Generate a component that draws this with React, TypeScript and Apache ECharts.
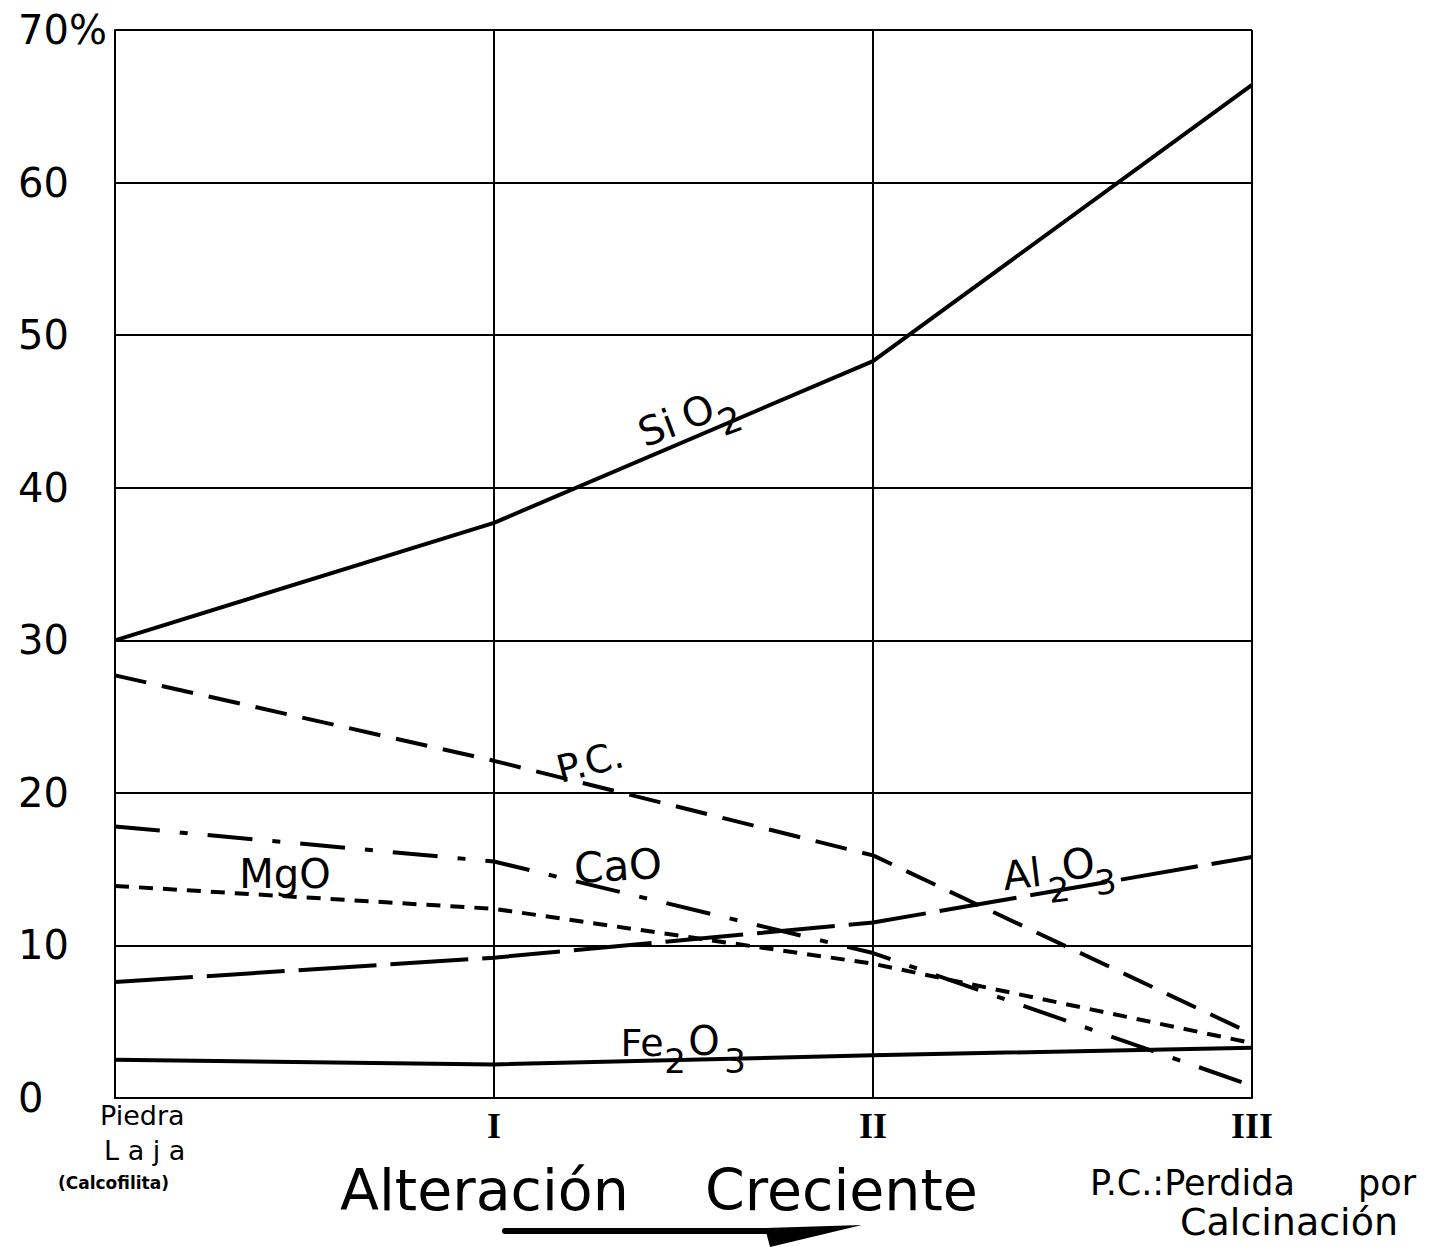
import React, { useEffect, useRef } from "react";
import * as echarts from "echarts";

const categories = ["Piedra Laja (Calcofilita)", "I", "II", "III"];
const sio2 = [30.0, 37.7, 48.3, 66.4];
const pc = [27.7, 22.1, 15.9, 4.2];
const cao = [17.8, 15.5, 9.5, 0.8];
const mgo = [13.9, 12.4, 8.8, 3.6];
const al2o3 = [7.6, 9.2, 11.5, 15.8];
const fe2o3 = [2.5, 2.2, 2.8, 3.3];
const yMin = 0;
const yMax = 70;
const yStep = 10;

const FONT = "DejaVu Sans";

function t(x: number, y: number, text: string, fontSize: number, extra: any = {}) {
  return {
    type: "text",
    x,
    y,
    style: {
      text,
      fontSize,
      fontFamily: FONT,
      fill: "#000",
      align: "center",
      verticalAlign: "middle",
      ...extra,
    },
  };
}

export default function App() {
  const ref = useRef<HTMLDivElement>(null);
  useEffect(() => {
    document.body.style.margin = "0";
    const chart = echarts.init(ref.current!, null, { renderer: "svg" });
    const lineSeries = (name: string, data: number[], type: any, width = 4) => ({
      name,
      type: "line",
      data,
      symbol: "none",
      silent: true,
      lineStyle: { color: "#000", width, type },
    });
    chart.setOption({
      animation: false,
      backgroundColor: "#fff",
      textStyle: { fontFamily: FONT },
      grid: { left: 115, right: 177, top: 30, bottom: 149 },
      xAxis: {
        type: "category",
        data: categories,
        boundaryGap: false,
        axisLine: { lineStyle: { color: "#000", width: 2 } },
        axisTick: { show: false },
        splitLine: { show: true, lineStyle: { color: "#000", width: 2 } },
        axisLabel: {
          formatter: (v: string, i: number) => (i === 0 ? "" : v),
          fontFamily: "Liberation Serif",
          fontWeight: "bold",
          fontSize: 36,
          color: "#000",
          margin: 10,
        },
      },
      yAxis: {
        type: "value",
        min: yMin,
        max: yMax,
        interval: yStep,
        axisLine: { show: true, lineStyle: { color: "#000", width: 2 } },
        axisTick: { show: false },
        splitLine: { show: true, lineStyle: { color: "#000", width: 2 } },
        axisLabel: {
          formatter: (v: number) => (v === yMax ? v + "%" : String(v)),
          align: "left",
          margin: 97,
          fontSize: 40,
          fontFamily: FONT,
          color: "#000",
        },
      },
      series: [
        lineSeries("SiO2", sio2, "solid", 4),
        lineSeries("P.C.", pc, [32, 16], 4),
        lineSeries("CaO", cao, [45, 20, 8, 20], 4),
        lineSeries("MgO", mgo, [14, 10], 4),
        lineSeries("Al2O3", al2o3, [78, 14], 4),
        lineSeries("Fe2O3", fe2o3, "solid", 4),
      ],
      graphic: [
        // first category label
        t(100, 1115, "Piedra", 27, { align: "left" }),
        t(104, 1150, "L a j a", 27, { align: "left" }),
        t(58, 1183, "(Calcofilita)", 17, { align: "left", fontWeight: "bold" }),
        // axis title
        t(340, 1190, "Alteración", 57, { align: "left" }),
        t(705, 1190, "Creciente", 57, { align: "left" }),
        {
          type: "line",
          shape: { x1: 505, y1: 1231, x2: 790, y2: 1231 },
          style: { stroke: "#000", lineWidth: 6, lineCap: "round" },
        },
        {
          type: "polygon",
          shape: { points: [[765, 1228], [862, 1225], [770, 1247]] },
          style: { fill: "#000" },
        },
        // note
        t(1090, 1183, "P.C.:Perdida", 35, { align: "left" }),
        t(1358, 1183, "por", 35, { align: "left" }),
        t(1180, 1222, "Calcinación", 38, { align: "left" }),
        // series labels
        {
          type: "group",
          x: 657,
          y: 428,
          rotation: 0.36,
          children: [t(0, 0, "Si", 40), t(44, -1, "O", 40), t(71, 19, "2", 36)],
        },
        { ...t(590, 762, "P.C.", 38), rotation: 0.25 },
        { ...t(618, 866, "CaO", 42), rotation: 0.06 },
        t(285, 874, "MgO", 40),
        {
          type: "group",
          x: 1022,
          y: 874,
          rotation: 0.12,
          children: [t(0, 0, "Al", 40), t(35, 20, "2", 34), t(57, -3, "O", 42), t(82, 18, "3", 34)],
        },
        t(642, 1043, "Fe", 38),
        t(675, 1061, "2", 34),
        t(704, 1041, "O", 40),
        t(735, 1061, "3", 34),
      ],
    });
    return () => chart.dispose();
  }, []);
  return <div ref={ref} style={{ width: 1429, height: 1247 }} />;
}
